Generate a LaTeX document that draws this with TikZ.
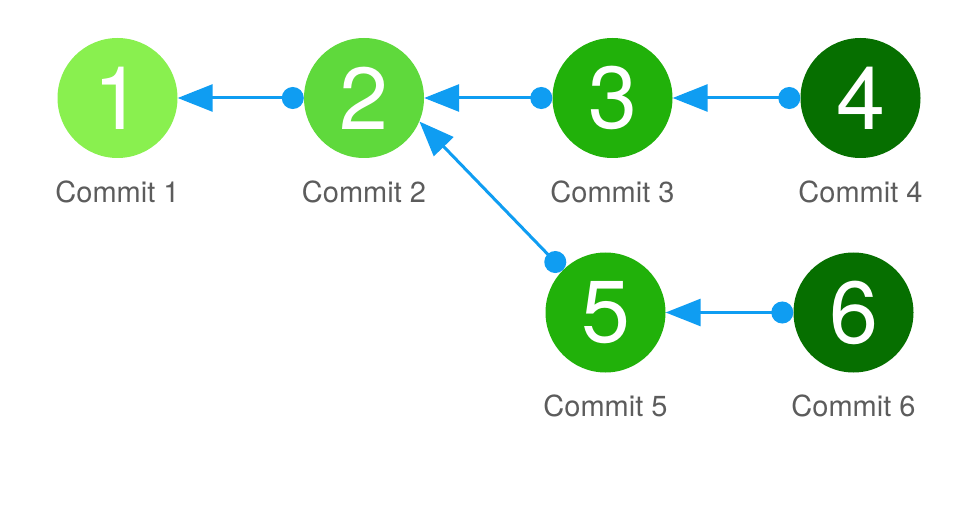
\documentclass[tikz,border=0pt]{standalone}
\usepackage{fontspec}
\setmainfont{TeX Gyre Heros}
\usetikzlibrary{arrows.meta}
\definecolor{cone}{HTML}{89F04F}
\definecolor{ctwo}{HTML}{5FD93C}
\definecolor{cthree}{HTML}{21B10A}
\definecolor{cfour}{HTML}{066F00}
\definecolor{arrowblue}{HTML}{0F9DF2}
\definecolor{labelgray}{HTML}{5C5C5C}
\tikzset{
  commit/.style={circle, minimum size=120pt, inner sep=0pt, text=white, font=\fontsize{88}{88}\selectfont},
  clabel/.style={text=labelgray, inner sep=0pt, font=\fontsize{29}{29}\selectfont},
  conn/.style={draw=arrowblue, line width=3pt, {Circle[length=22pt,fill=arrowblue]}-{Triangle[length=35pt,width=27pt,fill=arrowblue]}}
}
\begin{document}
\begin{tikzpicture}[x=1pt,y=-1pt]
\useasboundingbox (0,0) rectangle (980,505);
\node[commit, fill=cone]   (n1) at (117.5,98) {1};
\node[commit, fill=ctwo]   (n2) at (364,98) {2};
\node[commit, fill=cthree] (n3) at (612.5,98) {3};
\node[commit, fill=cfour]  (n4) at (860.5,98) {4};
\node[commit, fill=cthree] (n5) at (605.5,312.5) {5};
\node[commit, fill=cfour]  (n6) at (853.5,312.5) {6};
\node[clabel] (l1) at (117.5,192) {Commit 1};
\node[clabel] (l2) at (364,192) {Commit 2};
\node[clabel] (l3) at (612.5,192) {Commit 3};
\node[clabel] (l4) at (860.5,192) {Commit 4};
\node[clabel] (l5) at (605.5,406) {Commit 5};
\node[clabel] (l6) at (853.5,406) {Commit 6};
\draw[conn] (n2.west) -- (n1.east);
\draw[conn] (n3.west) -- (n2.east);
\draw[conn] (n4.west) -- (n3.east);
\draw[conn] (n6.west) -- (n5.east);
\draw[conn] (n5.135) -- (n2.-23);
\end{tikzpicture}
\end{document}
